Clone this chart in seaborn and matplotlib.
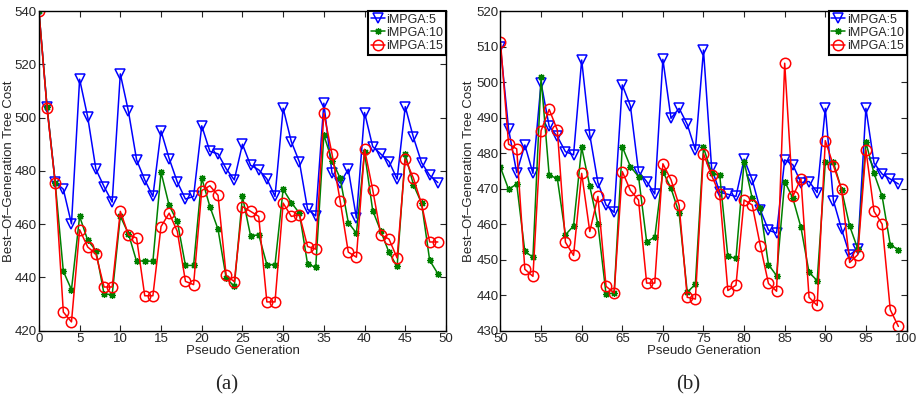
import numpy as np
import pandas as pd
import seaborn as sns
import matplotlib
matplotlib.use("Agg")
import matplotlib.pyplot as plt

# generations for the two panels
gen_a = list(range(0, 50))
gen_b = list(range(50, 100))

# panel (a): best-of-generation tree cost, generations 0-49
impga5_a = [540, 503.9, 475.8, 473.1, 460.1, 514.4, 500.1, 480.6, 474.1, 468.3,
            516.4, 502.3, 484.1, 476.6, 470.4, 495.0, 484.6, 475.8, 469.4, 470.4,
            496.9, 487.3, 486.4, 480.8, 476.6, 490.0, 482.1, 480.4, 477.0, 470.4,
            503.5, 491.0, 483.3, 465.6, 463.1, 505.4, 479.1, 475.4, 480.6, 462.3,
            501.9, 489.1, 486.3, 483.5, 476.9, 504.1, 492.6, 483.1, 478.3, 475.6]
impga10_a = [540, 504.0, 475.6, 442.3, 435.4, 462.9, 453.9, 450.1, 433.8, 433.5,
             463.0, 456.4, 446.0, 446.3, 446.0, 479.5, 467.0, 461.0, 444.5, 444.5,
             477.3, 466.6, 458.1, 439.8, 436.6, 470.4, 455.6, 456.0, 444.8, 444.8,
             473.1, 468.1, 464.1, 445.0, 443.8, 493.5, 483.8, 477.3, 460.6, 456.6,
             486.9, 465.1, 457.3, 449.4, 444.1, 486.3, 474.8, 467.9, 446.4, 441.4]
impga15_a = [540, 503.5, 475.6, 427.0, 423.3, 457.9, 451.4, 448.8, 436.4, 436.4,
             464.8, 456.0, 454.8, 433.1, 433.1, 459.1, 464.1, 457.3, 438.5, 437.3,
             472.6, 474.4, 470.8, 440.8, 438.4, 466.6, 464.8, 462.9, 430.8, 430.8,
             467.9, 462.9, 463.5, 451.6, 450.6, 501.6, 486.4, 468.8, 449.5, 447.6,
             488.1, 472.9, 456.0, 454.4, 447.3, 484.4, 477.3, 467.6, 453.3, 453.3]

# panel (b): generations 50-99
impga5_b = [510.0, 486.7, 474.5, 482.3, 474.3, 499.8, 487.5, 484.7, 480.4, 479.5,
            506.2, 485.1, 471.7, 465.4, 463.3, 499.2, 493.3, 474.8, 472.0, 468.5,
            506.4, 489.8, 492.6, 488.1, 480.9, 509.0, 475.8, 469.0, 468.4, 467.8,
            478.3, 472.5, 464.0, 458.3, 457.5, 478.1, 476.7, 471.7, 472.0, 468.9,
            492.6, 466.6, 458.6, 451.4, 453.0, 492.6, 477.2, 474.1, 472.7, 471.3]
impga10_b = [476.0, 469.8, 471.3, 452.3, 450.7, 501.3, 473.7, 472.9, 457.0, 459.5,
             481.6, 470.6, 460.0, 440.3, 440.6, 481.8, 476.2, 473.4, 455.1, 456.3,
             474.8, 470.1, 463.1, 440.8, 443.1, 481.6, 474.3, 473.7, 450.9, 450.4,
             477.6, 467.3, 464.5, 448.6, 445.5, 472.0, 467.3, 459.1, 446.4, 444.1,
             477.4, 477.4, 469.7, 459.5, 453.0, 483.0, 474.3, 467.8, 454.2, 452.8]
impga15_b = [511.4, 482.5, 481.2, 447.3, 445.3, 486.3, 492.3, 486.5, 454.9, 451.2,
             474.3, 457.9, 467.8, 442.5, 440.6, 474.8, 469.5, 466.8, 443.4, 443.4,
             477.0, 472.5, 465.3, 439.4, 438.9, 479.8, 473.7, 468.4, 441.3, 442.8,
             466.8, 465.4, 453.9, 443.3, 441.1, 505.3, 467.8, 472.8, 439.4, 437.1,
             483.5, 476.5, 469.8, 449.2, 451.4, 480.9, 463.6, 460.0, 435.9, 431.2]

series_names = ["iMPGA:5", "iMPGA:10", "iMPGA:15"]
colors = ["#0000ff", "#008000", "#ff0000"]
markers = ["v", (8, 2, 0), "o"]
marker_sizes = [7.5, 5, 7.5]
marker_widths = [1.1, 0.9, 1.1]

sns.set_style("ticks")
plt.rcParams["font.family"] = ["Liberation Sans", "DejaVu Sans"]

fig, axes = plt.subplots(1, 2, figsize=(9.22, 3.99), dpi=100)
axes[0].set_position([0.0422, 0.1712, 0.4415, 0.8012])
axes[1].set_position([0.5428, 0.1712, 0.4404, 0.8012])

panels = [
    (axes[0], gen_a, [impga5_a, impga10_a, impga15_a], (0, 50), (420, 540), 20, "(a)", 0.246, -0.059),
    (axes[1], gen_b, [impga5_b, impga10_b, impga15_b], (50, 100), (430, 520), 10, "(b)", 0.746, -0.063),
]

for ax, gen, ys, xlim, ylim, ystep, tag, tag_x, ylab_x in panels:
    for name, vals, c, m, ms, mw in zip(series_names, ys, colors, markers,
                                        marker_sizes, marker_widths):
        sns.lineplot(x=gen, y=vals, ax=ax, color=c, marker=m, markersize=ms,
                     markerfacecolor="none", markeredgecolor=c, markeredgewidth=mw,
                     linewidth=1.1, label=name)
    ax.set_xlim(*xlim)
    ax.set_ylim(*ylim)
    ax.set_xticks(np.arange(xlim[0], xlim[1] + 1, 5))
    ax.set_yticks(np.arange(ylim[0], ylim[1] + 1, ystep))
    ax.tick_params(direction="in", top=True, right=True, labelsize=9.5, length=4,
                   width=0.8, pad=1.5)
    for s in ax.spines.values():
        s.set_visible(True)
        s.set_linewidth(1.0)
        s.set_color("black")
    ax.set_xlabel("Pseudo Generation", fontsize=9.5, labelpad=0.5)
    ax.set_ylabel("Best\u2013Of\u2013Generation Tree Cost", fontsize=9.5)
    ax.yaxis.set_label_coords(ylab_x, 0.5)
    leg = ax.legend(loc="upper right", fontsize=9, frameon=True, fancybox=False,
                    edgecolor="black", framealpha=1, borderpad=0.2, labelspacing=0.1,
                    handlelength=1.1, handletextpad=0.15, borderaxespad=0.0)
    leg.get_frame().set_linewidth(1.5)
    fig.text(tag_x, 1 - 385 / 399, tag, ha="center", va="center",
             fontsize=15, family="Liberation Serif")

fig.savefig("out.png", dpi=100)
